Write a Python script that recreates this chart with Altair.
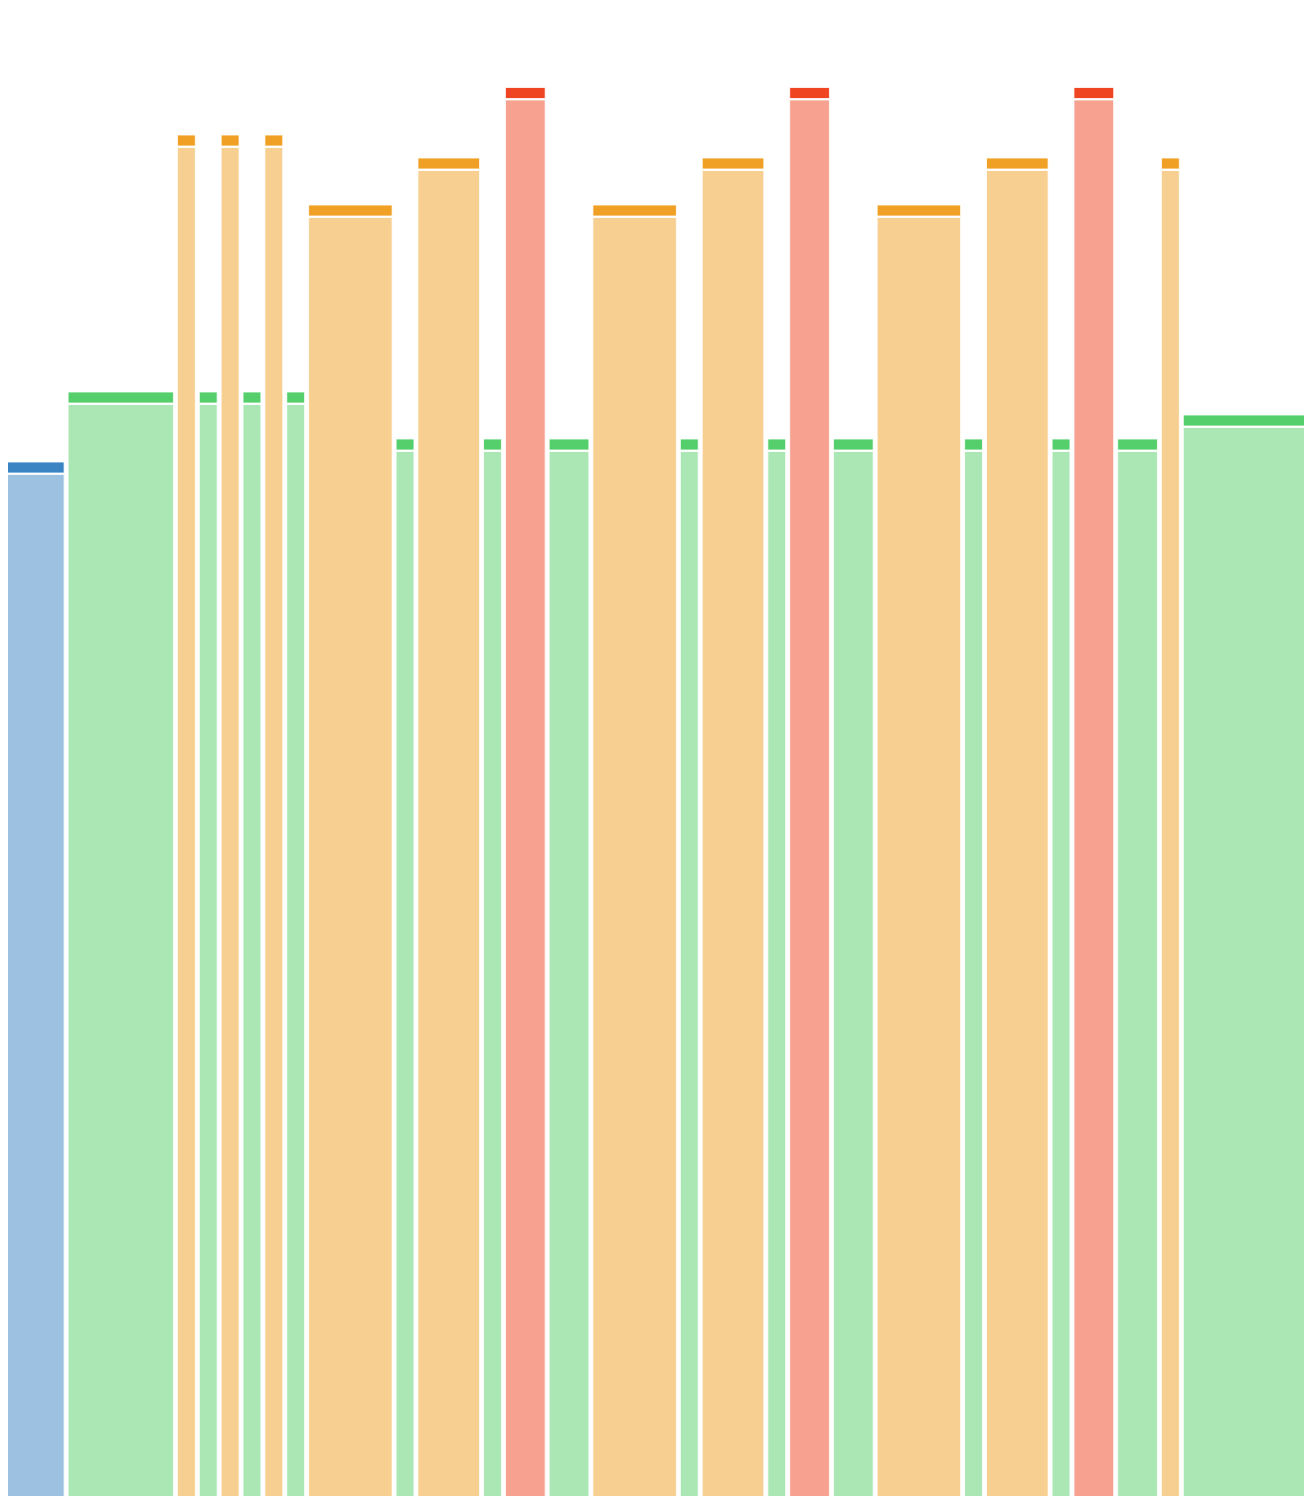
import altair as alt
import pandas as pd

# one entry per bar, left to right
groups = ["blue", "green", "orange", "green", "orange", "green", "orange", "green",
          "orange", "green", "orange", "green", "red", "green",
          "orange", "green", "orange", "green", "red", "green",
          "orange", "green", "orange", "green", "red", "green",
          "orange", "green"]
widths = [3, 5, 1, 1, 1, 1, 1, 1,
          4, 1, 3, 1, 2, 2,
          4, 1, 3, 1, 2, 2,
          4, 1, 3, 1, 2, 2,
          1, 6]
values = [1033.5, 1103.5, 1360.5, 1103.5, 1360.5, 1103.5, 1360.5, 1103.5,
          1290.5, 1056.5, 1337.5, 1056.5, 1408, 1056.5,
          1290.5, 1056.5, 1337.5, 1056.5, 1408, 1056.5,
          1290.5, 1056.5, 1337.5, 1056.5, 1408, 1056.5,
          1337.5, 1080.5]

group_domain = ["blue", "green", "orange", "red"]
group_colors = ["#3a84c4", "#55cf6b", "#f0a024", "#f04522"]

df = pd.DataFrame({"group": groups, "width": widths, "value": values})
df["end"] = df["width"].cumsum()
df["start"] = df["end"] - df["width"]

x_scale = alt.Scale(domain=[0, 60], nice=False, zero=False)
y_scale = alt.Scale(domain=[0, 1500], nice=False)
color = alt.Color("group:N", scale=alt.Scale(domain=group_domain, range=group_colors), legend=None)

base = alt.Chart(df)

body = base.mark_bar(
    fillOpacity=0.5, stroke="white", strokeWidth=1, strokeOpacity=0.8,
    xOffset=2.5, x2Offset=-1.5, clip=True
).encode(
    x=alt.X("start:Q", scale=x_scale, axis=None),
    x2="end:Q",
    y=alt.Y("value:Q", scale=y_scale, axis=None),
    y2=alt.datum(0),
    color=color,
)

cap = base.mark_bar(
    fillOpacity=1, stroke="white", strokeWidth=1, strokeOpacity=0.8,
    xOffset=2.5, x2Offset=-1.5, yOffset=-12.5, y2Offset=-1.5, clip=True
).encode(
    x=alt.X("start:Q", scale=x_scale, axis=None),
    x2="end:Q",
    y=alt.Y("value:Q", scale=y_scale, axis=None),
    y2="value:Q",
    color=color,
)

chart = alt.layer(body, cap).properties(
    width=1312, height=1500,
    padding={"left": -8, "top": 0, "right": -8, "bottom": -12},
    autosize="none",
).configure_view(stroke=None)

chart.save("out.html", embed_options={"renderer": "svg", "actions": False})
